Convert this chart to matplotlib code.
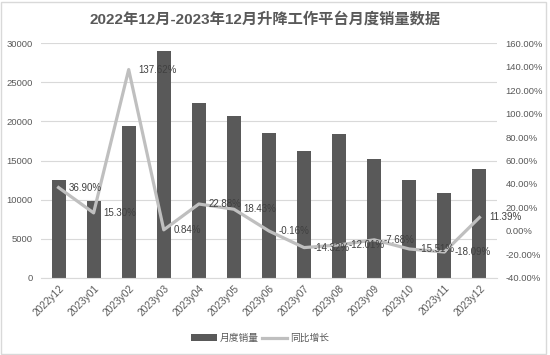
import numpy as np
import matplotlib
matplotlib.use('Agg')
import matplotlib.pyplot as plt
from matplotlib.ticker import FuncFormatter

plt.rcParams['font.family'] = ['Liberation Sans', 'Noto Sans CJK SC']

months = ['2022y12', '2023y01', '2023y02', '2023y03', '2023y04', '2023y05', '2023y06',
          '2023y07', '2023y08', '2023y09', '2023y10', '2023y11', '2023y12']
sales = [12450, 9800, 19450, 29000, 22300, 20700, 18500,
         16200, 18350, 15250, 12500, 10850, 13850]
yoy = [36.90, 15.30, 137.62, 0.84, 22.88, 18.43, -0.16,
       -14.32, -12.01, -7.68, -15.51, -18.09, 11.39]

bar_color = '#595959'
line_color = '#BFBFBF'
text_color = '#595959'

fig = plt.figure(figsize=(5.5, 3.55), dpi=100)
ax = fig.add_axes([41 / 550, 1 - 277.7 / 355, 456 / 550, (277.7 - 43.3) / 355])
ax2 = ax.twinx()

x = np.arange(len(months))
ax.bar(x, sales, width=0.4, color=bar_color, label='月度销量', zorder=2)
ax2.plot(x, yoy, color=line_color, lw=2.3, label='同比增长', zorder=3)
for i, v in enumerate(yoy):
    ax2.annotate('%.2f%%' % v, (x[i], v), xytext=(7, 0), textcoords='offset points',
                 ha='left', va='center', fontsize=7, color='#404040', zorder=5)

ax.set_xlim(-0.5, len(months) - 0.5)
ax.set_ylim(0, 30000)
ax.set_yticks(range(0, 30001, 5000))
ax2.set_ylim(-40, 160)
ax2.set_yticks(range(-40, 161, 20))
ax2.yaxis.set_major_formatter(FuncFormatter(lambda v, p: '%.2f%%' % v))

ax.yaxis.grid(True, color='#D9D9D9', lw=0.8, zorder=0)
ax.set_axisbelow(True)
for a in (ax, ax2):
    for s in a.spines.values():
        s.set_visible(False)
    a.tick_params(length=0, labelsize=6.8, labelcolor=text_color)
ax.spines['bottom'].set_visible(True)
ax.spines['bottom'].set_color('#D9D9D9')
ax.tick_params(axis='y', pad=6)
ax2.tick_params(axis='y', pad=6)
ax.set_xticks(x)
ax.set_xticklabels(months, rotation=45, ha='right', rotation_mode='anchor', fontsize=7.3)
ax.tick_params(axis='x', pad=4)
ax2.set_zorder(ax.get_zorder() + 1)
ax2.patch.set_visible(False)

fig.text(0.482, 0.947, '2022年12月-2023年12月升降工作平台月度销量数据', ha='center', va='center',
         fontsize=11, fontweight='bold', color=text_color)

h1, l1 = ax.get_legend_handles_labels()
h2, l2 = ax2.get_legend_handles_labels()
fig.legend(h1 + h2, l1 + l2, loc='center', bbox_to_anchor=(0.473, 1 - 338 / 355), ncol=2,
           frameon=False, fontsize=7, handlelength=2.6, columnspacing=0.3, handletextpad=0.3,
           labelcolor=text_color)

fig.patches.append(plt.Rectangle((0.002, 0.003), 0.991, 0.99, transform=fig.transFigure,
                                 fill=False, edgecolor='#D9D9D9', lw=1))

fig.savefig('out.png', dpi=100)
